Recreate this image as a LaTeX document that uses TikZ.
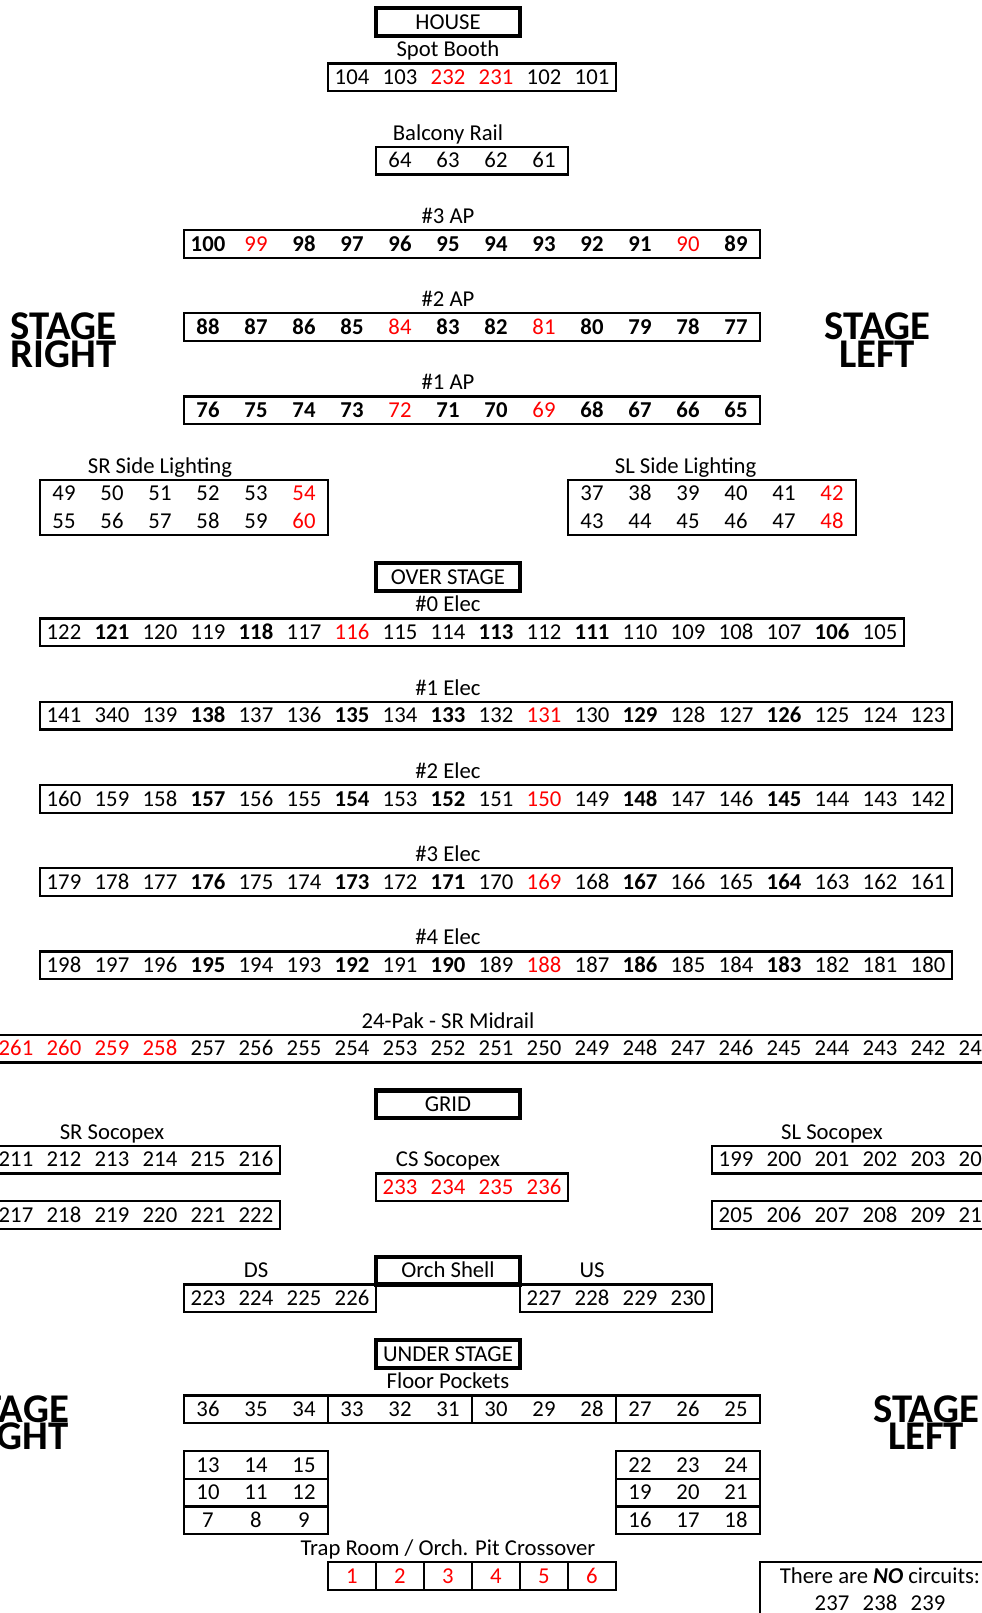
\documentclass[tikz,border=0pt]{standalone}
\usepackage{fontspec}
\setmainfont{Carlito}
\usepackage{xcolor}
\usepackage{tikz}
\usetikzlibrary{positioning}

\newcommand{\cfont}{\fontsize{11.35}{13.6}\selectfont}
\newcommand{\bn}[1]{\textbf{#1}}
\newcommand{\rn}[1]{\textcolor{red}{\mdseries #1}}
\newcommand{\cellrow}[5][]{%
  \foreach \v [count=\i from 0] in {#5}
    \node[num,#1] (#2-\i) at ({#3+\i+0.5},{#4+0.5}) {\v};}

\begin{document}
\begin{tikzpicture}[x=24pt,y=-13.875pt,
  num/.style={inner sep=0pt,text height=7.2pt,text depth=0pt,font=\cfont},
  boldrow/.style={font=\cfont\bfseries},
  rowbox/.style={draw,line width=1.15pt},
  headbox/.style={num,draw,line width=2.25pt,minimum width=72pt,minimum height=13.875pt},
  sidelbl/.style={inner sep=0pt,text height=12.8pt,text depth=0pt,
                  font=\fontsize{20.4}{20}\selectfont\bfseries}]
  \useasboundingbox (-0.8333,-0.2883) rectangle (19.625,57.8378);
  \clip (-0.8333,-0.2883) rectangle (19.625,57.8378);

  \node[headbox] (house) at (8.5,0.5) {HOUSE};
  \node[num] (spotlbl) at (8.5,1.5) {Spot Booth};
  \draw[rowbox] (6,2) rectangle (12,3);
  \cellrow{spot}{6}{2}{104,103,\rn{232},\rn{231},102,101}
  \node[num] (balclbl) at (8.5,4.5) {Balcony Rail};
  \draw[rowbox] (7,5) rectangle (11,6);
  \cellrow{balc}{7}{5}{64,63,62,61}

  \node[num] (ap3lbl) at (8.5,7.5) {\#3 AP};
  \draw[rowbox] (3,8) rectangle (15,9);
  \cellrow[boldrow]{ap3}{3}{8}{100,\rn{99},98,97,96,95,94,93,92,91,\rn{90},89}
  \node[num] (ap2lbl) at (8.5,10.5) {\#2 AP};
  \draw[rowbox] (3,11) rectangle (15,12);
  \cellrow[boldrow]{ap2}{3}{11}{88,87,86,85,\rn{84},83,82,\rn{81},80,79,78,77}
  \node[num] (ap1lbl) at (8.5,13.5) {\#1 AP};
  \draw[rowbox] (3,14) rectangle (15,15);
  \cellrow[boldrow]{ap1}{3}{14}{76,75,74,73,\rn{72},71,70,\rn{69},68,67,66,65}

  \node[sidelbl] (srtop) at (0.49,11.5) {STAGE};
  \node[sidelbl] (srbot) at (0.49,12.5) {RIGHT};
  \node[sidelbl] (sltop) at (17.44,11.5) {STAGE};
  \node[sidelbl] (slbot) at (17.44,12.5) {LEFT};

  \node[num] (srsidelbl) at (2.5,16.5) {SR Side Lighting};
  \draw[rowbox] (0,17) rectangle (6,19);
  \cellrow{srsideA}{0}{17}{49,50,51,52,53,\rn{54}}
  \cellrow{srsideB}{0}{18}{55,56,57,58,59,\rn{60}}
  \node[num] (slsidelbl) at (13.45,16.5) {SL Side Lighting};
  \draw[rowbox] (11,17) rectangle (17,19);
  \cellrow{slsideA}{11}{17}{37,38,39,40,41,\rn{42}}
  \cellrow{slsideB}{11}{18}{43,44,45,46,47,\rn{48}}

  \node[headbox] (over) at (8.5,20.5) {OVER STAGE};
  \node[num] (e0lbl) at (8.5,21.5) {\#0 Elec};
  \draw[rowbox] (0,22) rectangle (18,23);
  \cellrow{e0}{0}{22}{122,\bn{121},120,119,\bn{118},117,\rn{116},115,114,\bn{113},112,\bn{111},110,109,108,107,\bn{106},105}
  \node[num] (e1lbl) at (8.5,24.5) {\#1 Elec};
  \draw[rowbox] (0,25) rectangle (19,26);
  \cellrow{e1}{0}{25}{141,340,139,\bn{138},137,136,\bn{135},134,\bn{133},132,\rn{131},130,\bn{129},128,127,\bn{126},125,124,123}
  \node[num] (e2lbl) at (8.5,27.5) {\#2 Elec};
  \draw[rowbox] (0,28) rectangle (19,29);
  \cellrow{e2}{0}{28}{160,159,158,\bn{157},156,155,\bn{154},153,\bn{152},151,\rn{150},149,\bn{148},147,146,\bn{145},144,143,142}
  \node[num] (e3lbl) at (8.5,30.5) {\#3 Elec};
  \draw[rowbox] (0,31) rectangle (19,32);
  \cellrow{e3}{0}{31}{179,178,177,\bn{176},175,174,\bn{173},172,\bn{171},170,\rn{169},168,\bn{167},166,165,\bn{164},163,162,161}
  \node[num] (e4lbl) at (8.5,33.5) {\#4 Elec};
  \draw[rowbox] (0,34) rectangle (19,35);
  \cellrow{e4}{0}{34}{198,197,196,\bn{195},194,193,\bn{192},191,\bn{190},189,\rn{188},187,\bn{186},185,184,\bn{183},182,181,180}

  \node[num] (paklbl) at (8.5,36.5) {24-Pak - SR Midrail};
  \draw[rowbox] (-1,37) rectangle (21,38);
  \cellrow{pak}{-1}{37}{\rn{261},\rn{260},\rn{259},\rn{258},257,256,255,254,253,252,251,250,249,248,247,246,245,244,243,242,241}

  \node[headbox] (grid) at (8.5,39.5) {GRID};
  \node[num] (srsocolbl) at (1.5,40.5) {SR Socopex};
  \draw[rowbox] (-1,41) rectangle (5,42);
  \draw[rowbox] (-1,43) rectangle (5,44);
  \cellrow{srsocoA}{-1}{41}{211,212,213,214,215,216}
  \cellrow{srsocoB}{-1}{43}{217,218,219,220,221,222}
  \node[num] (cssocolbl) at (8.5,41.5) {CS Socopex};
  \draw[rowbox] (7,42) rectangle (11,43);
  \cellrow{cssoco}{7}{42}{\rn{233},\rn{234},\rn{235},\rn{236}}
  \node[num] (slsocolbl) at (16.5,40.5) {SL Socopex};
  \draw[rowbox] (14,41) rectangle (20,42);
  \draw[rowbox] (14,43) rectangle (20,44);
  \cellrow{slsocoA}{14}{41}{199,200,201,202,203,204}
  \cellrow{slsocoB}{14}{43}{205,206,207,208,209,210}

  \node[num] (dslbl) at (4.5,45.5) {DS};
  \node[headbox] (orch) at (8.5,45.5) {Orch Shell};
  \node[num] (uslbl) at (11.5,45.5) {US};
  \draw[rowbox] (3,46) rectangle (7,47);
  \cellrow{ds}{3}{46}{223,224,225,226}
  \draw[rowbox] (10,46) rectangle (14,47);
  \cellrow{us}{10}{46}{227,228,229,230}

  \node[headbox] (under) at (8.5,48.5) {UNDER STAGE};
  \node[num] (floorlbl) at (8.5,49.5) {Floor Pockets};
  \draw[rowbox] (3,50) rectangle (15,51);
  \foreach \c in {6,9,12}
    \draw[rowbox] (\c,50) -- (\c,51);
  \cellrow{floor}{3}{50}{36,35,34,33,32,31,30,29,28,27,26,25}

  \node[sidelbl] (srtop2) at (-0.5,50.5) {STAGE};
  \node[sidelbl] (srbot2) at (-0.5,51.5) {RIGHT};
  \node[sidelbl] (sltop2) at (18.46,50.5) {STAGE};
  \node[sidelbl] (slbot2) at (18.46,51.5) {LEFT};

  \draw[rowbox] (3,52) rectangle (6,55);
  \draw[rowbox] (3,53) -- (6,53) (3,54) -- (6,54);
  \cellrow{trapsrA}{3}{52}{13,14,15}
  \cellrow{trapsrB}{3}{53}{10,11,12}
  \cellrow{trapsrC}{3}{54}{7,8,9}
  \draw[rowbox] (12,52) rectangle (15,55);
  \draw[rowbox] (12,53) -- (15,53) (12,54) -- (15,54);
  \cellrow{trapslA}{12}{52}{22,23,24}
  \cellrow{trapslB}{12}{53}{19,20,21}
  \cellrow{trapslC}{12}{54}{16,17,18}

  \node[num] (traplbl) at (8.5,55.5) {Trap Room / Orch. Pit Crossover};
  \draw[rowbox] (6,56) rectangle (12,57);
  \foreach \c in {7,...,11}
    \draw[rowbox] (\c,56) -- (\c,57);
  \cellrow{pit}{6}{56}{\rn{1},\rn{2},\rn{3},\rn{4},\rn{5},\rn{6}}

  \draw[rowbox] (15,56) rectangle (21,59);
  \node[num] (nocirc) at (17.5,56.5) {There are \textbf{\textit{NO}} circuits:};
  \cellrow{spare}{16}{57}{237,238,239}
\end{tikzpicture}
\end{document}
